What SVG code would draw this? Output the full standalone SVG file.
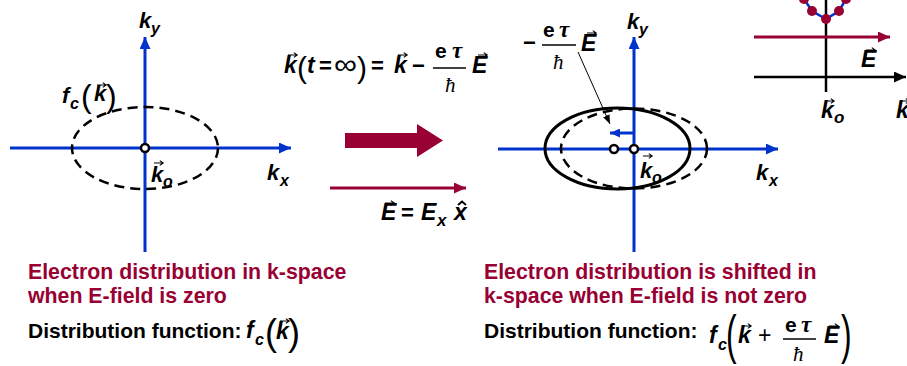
<svg xmlns="http://www.w3.org/2000/svg" width="907" height="366" viewBox="0 0 907 366">
<defs>
<style>
.ax{stroke:#0033cc;stroke-width:3;fill:none}
.m{font-family:"Liberation Sans",Arial,sans-serif;font-weight:bold;font-style:italic;fill:#000}
.r{font-family:"Liberation Sans",Arial,sans-serif;fill:#000}
.s{font-family:"Liberation Serif","Times New Roman",serif;font-style:italic;fill:#000}
.cap{font-family:"Liberation Sans",Arial,sans-serif;font-weight:bold;font-size:21.3px;fill:#990033}
.lbl{font-family:"Liberation Sans",Arial,sans-serif;font-weight:bold;font-size:21px;fill:#000}
.dash{fill:none;stroke:#000;stroke-width:2.5;stroke-dasharray:10 6}
.vec{fill:none;stroke:#000;stroke-width:1.1}
.frac{stroke:#000;stroke-width:1.3}
.org{fill:#fff;stroke:#000;stroke-width:2.5}
</style>
<marker id="hb" markerUnits="userSpaceOnUse" markerWidth="12" markerHeight="11" refX="12" refY="5.5" orient="auto"><path d="M0,0 L12,5.5 L0,11 Z" fill="#0033cc"/></marker>
<marker id="hbs" markerUnits="userSpaceOnUse" markerWidth="10" markerHeight="9" refX="10" refY="4.5" orient="auto"><path d="M0,0 L10,4.5 L0,9 Z" fill="#0033cc"/></marker>
<marker id="hr" markerUnits="userSpaceOnUse" markerWidth="12" markerHeight="11" refX="12" refY="5.5" orient="auto"><path d="M0,0 L12,5.5 L0,11 Z" fill="#990033"/></marker>
<marker id="hk" markerUnits="userSpaceOnUse" markerWidth="12" markerHeight="11" refX="12" refY="5.5" orient="auto"><path d="M0,0 L12,5.5 L0,11 Z" fill="#000"/></marker>
<marker id="hks" markerUnits="userSpaceOnUse" markerWidth="9" markerHeight="7" refX="9" refY="3.5" orient="auto"><path d="M0,0 L9,3.5 L0,7 Z" fill="#000"/></marker>
<path id="v" class="vec" d="M0,0 h9 m-3.2,-2.4 l3.4,2.4 l-3.4,2.4"/>
</defs>

<g id="left-panel">
  <line class="ax" x1="145" y1="252" x2="145" y2="37" marker-end="url(#hb)"/>
  <line class="ax" x1="10" y1="148" x2="291" y2="148" marker-end="url(#hb)"/>
  <ellipse class="dash" cx="145" cy="148" rx="73" ry="41"/>
  <circle class="org" cx="145" cy="148" r="4"/>
  <text class="m" x="139" y="28" font-size="22">k</text><text class="m" x="151" y="34" font-size="16">y</text>
  <text class="m" x="267" y="180" font-size="22">k</text><text class="m" x="280" y="186" font-size="16">x</text>
  <use href="#v" x="154" y="163"/>
  <text class="m" x="151" y="182" font-size="22">k</text><text class="m" x="163" y="187" font-size="16">o</text>
  <g id="fc-label-left">
    <text class="m" x="62" y="103" font-size="22">f</text><text class="m" x="70" y="109" font-size="16">c</text>
    <text class="r" x="81" y="107" font-size="32">(</text>
    <use href="#v" x="97" y="85"/>
    <text class="m" x="94" y="101" font-size="22">k</text>
    <text class="r" x="106" y="107" font-size="32">)</text>
  </g>
</g>

<g id="equation">
  <use href="#v" x="288" y="55"/>
  <text class="m" x="284" y="73" font-size="23">k</text>
  <text class="r" x="297" y="78" font-size="30">(</text>
  <text class="m" x="307" y="73" font-size="23">t</text>
  <text class="r" x="319" y="73" font-size="22" font-weight="bold">=</text>
  <text class="r" x="334" y="74" font-size="28" textLength="23" lengthAdjust="spacingAndGlyphs">∞</text>
  <text class="r" x="357" y="78" font-size="30">)</text>
  <text class="r" x="371" y="73" font-size="22" font-weight="bold">=</text>
  <use href="#v" x="398" y="55"/>
  <text class="m" x="394" y="73" font-size="23">k</text>
  <text class="r" x="412" y="73" font-size="22" font-weight="bold">−</text>
  <text class="lbl" x="435" y="58" style="font-size:21px">e</text>
  <text class="s" x="452" y="58" font-size="23" font-weight="bold">τ</text>
  <line class="frac" x1="433" y1="68" x2="466" y2="68"/>
  <text class="s" x="445" y="92" font-size="21">ħ</text>
  <use href="#v" x="478" y="55"/>
  <text class="m" x="472" y="73" font-size="23">E</text>
</g>

<g id="big-arrow">
  <path d="M345,133 L417,133 L417,124 L443,140.5 L417,157 L417,148 L345,148 Z" fill="#990033"/>
</g>

<g id="efield">
  <line x1="330" y1="188" x2="466" y2="188" stroke="#990033" stroke-width="3" marker-end="url(#hr)"/>
  <use href="#v" x="385" y="203"/>
  <text class="m" x="381" y="220" font-size="23">E</text>
  <text class="r" x="401" y="220" font-size="22" font-weight="bold">=</text>
  <text class="m" x="421" y="220" font-size="23">E</text>
  <text class="m" x="437" y="226" font-size="17">x</text>
  <path d="M458,205 L462,201.5 L466,205" fill="none" stroke="#000" stroke-width="1.8"/>
  <text class="m" x="454" y="220" font-size="23">x</text>
</g>

<g id="right-panel">
  <line class="ax" x1="634" y1="252" x2="634" y2="37" marker-end="url(#hb)"/>
  <line class="ax" x1="498" y1="149" x2="778" y2="149" marker-end="url(#hb)"/>
  <ellipse class="dash" cx="634" cy="148.5" rx="73" ry="40"/>
  <ellipse cx="617.5" cy="148.5" rx="72.5" ry="40.5" fill="none" stroke="#000" stroke-width="3"/>
  <line x1="634" y1="133" x2="610" y2="133" stroke="#0033cc" stroke-width="3" marker-end="url(#hbs)"/>
  <circle class="org" cx="614" cy="149" r="4"/>
  <circle class="org" cx="634" cy="149" r="4"/>
  <text class="m" x="627" y="29" font-size="22">k</text><text class="m" x="639" y="35" font-size="16">y</text>
  <text class="m" x="756" y="180" font-size="22">k</text><text class="m" x="769" y="186" font-size="16">x</text>
  <use href="#v" x="643" y="156"/>
  <text class="m" x="640" y="178" font-size="22">k</text><text class="m" x="652" y="183" font-size="16">o</text>
  <g id="shift-label">
    <text class="r" x="523" y="50" font-size="22" font-weight="bold">−</text>
    <text class="lbl" x="543" y="37" style="font-size:21px">e</text>
    <text class="s" x="559" y="37" font-size="23" font-weight="bold">τ</text>
    <line class="frac" x1="542" y1="45" x2="576" y2="45"/>
    <text class="s" x="553" y="69" font-size="21">ħ</text>
    <use href="#v" x="587" y="33"/>
    <text class="m" x="581" y="51" font-size="23">E</text>
  </g>
  <line x1="578" y1="52" x2="610" y2="124" stroke="#000" stroke-width="1" marker-end="url(#hks)"/>
</g>

<g id="inset">
  <line x1="826" y1="0" x2="826" y2="92" stroke="#000" stroke-width="2.5"/>
  <polyline points="804,-1 812,11 826,19 839,11 846,-1" fill="none" stroke="#0033cc" stroke-width="2.5"/>
  <g fill="#990033">
    <circle cx="804" cy="-1" r="5"/><circle cx="812" cy="11" r="5"/><circle cx="826" cy="19" r="5"/><circle cx="839" cy="11" r="5"/><circle cx="846" cy="-1" r="5"/>
  </g>
  <line x1="754" y1="37" x2="890" y2="37" stroke="#990033" stroke-width="3" marker-end="url(#hr)"/>
  <line x1="754" y1="77" x2="906" y2="77" stroke="#000" stroke-width="2.5" marker-end="url(#hk)"/>
  <use href="#v" x="866" y="50"/>
  <text class="m" x="861" y="67" font-size="23">E</text>
  <use href="#v" x="825" y="101"/>
  <text class="m" x="821" y="118" font-size="23">k</text><text class="m" x="834" y="123" font-size="17">o</text>
  <use href="#v" x="900" y="101"/>
  <text class="m" x="896" y="118" font-size="23">k</text>
</g>

<g id="caption-left">
  <text class="cap" x="28" y="279">Electron distribution in k-space</text>
  <text class="cap" x="28" y="303">when E-field is zero</text>
  <text class="lbl" x="28" y="338">Distribution function:</text>
  <text class="m" x="246" y="338" font-size="23">f</text><text class="m" x="255" y="345" font-size="16">c</text>
  <text class="r" x="265" y="345" font-size="36">(</text>
  <use href="#v" x="280" y="321"/>
  <text class="m" x="276" y="339" font-size="23">k</text>
  <text class="r" x="288" y="345" font-size="36">)</text>
</g>

<g id="caption-right">
  <text class="cap" x="484" y="279">Electron distribution is shifted in</text>
  <text class="cap" x="484" y="303">k-space when E-field is not zero</text>
  <text class="lbl" x="484" y="338">Distribution function:</text>
  <text class="m" x="709" y="343" font-size="23">f</text><text class="m" x="718" y="350" font-size="16">c</text>
  <text class="r" transform="translate(726,353) scale(0.6,1)" font-size="53">(</text>
  <use href="#v" x="742" y="326"/>
  <text class="m" x="738" y="343" font-size="23">k</text>
  <text class="r" x="758" y="343" font-size="23">+</text>
  <text class="lbl" x="785" y="332" style="font-size:21px">e</text>
  <text class="s" x="801" y="332" font-size="23" font-weight="bold">τ</text>
  <line class="frac" x1="783" y1="339" x2="816" y2="339"/>
  <text class="s" x="793" y="361" font-size="21">ħ</text>
  <use href="#v" x="829" y="326"/>
  <text class="m" x="824" y="343" font-size="23">E</text>
  <text class="r" transform="translate(841,353) scale(0.6,1)" font-size="53">)</text>
</g>
</svg>
